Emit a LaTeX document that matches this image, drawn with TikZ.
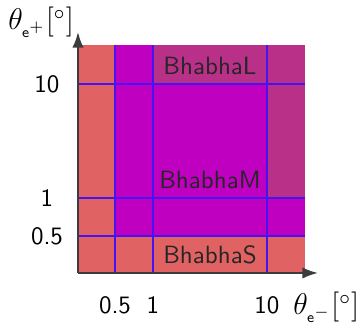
\documentclass[tikz,border=0pt]{standalone}
\usepackage{xcolor}
\usetikzlibrary{arrows.meta}
\definecolor{regsalmon}{RGB}{224,98,98}
\definecolor{regmagenta}{RGB}{192,0,192}
\definecolor{regdark}{RGB}{184,48,136}
\definecolor{gridblue}{RGB}{70,20,240}
\definecolor{axisgray}{RGB}{60,60,60}
\newcommand{\thsub}[1]{\lower1.2pt\hbox{$\scriptscriptstyle\mathsf{e}^{#1}$}}
\tikzset{
  axisarr/.style={-{Latex[length=2.2mm,width=1.6mm]}, thick, draw=axisgray},
  gridln/.style={draw=gridblue, line width=0.5pt},
  ticklbl/.style={font=\sffamily, inner sep=1pt},
  axlbl/.style={font=\large, inner sep=0pt, anchor=base west},
  reglbl/.style={font=\sffamily, text=black!85, inner sep=1pt},
}

\begin{document}
\begin{tikzpicture}[x=0.4pt, y=0.4pt]
  \useasboundingbox (0,0) rectangle (362,325);

  % acceptance regions
  \fill[regsalmon] (78,52) rectangle (305,280);
  \fill[regmagenta] (115,89) rectangle (305,280);
  \fill[regdark] (153,241) rectangle (267,280);
  \fill[regdark] (267,127) rectangle (305,280);

  % grid
  \foreach \gx in {115,153,267}
    \draw[gridln] (\gx,52) -- (\gx,280);
  \foreach \gy in {89,127,241}
    \draw[gridln] (78,\gy) -- (305,\gy);

  % axes
  \coordinate (orig) at (78,52);
  \coordinate (xend) at (318,52);
  \coordinate (yend) at (78,293);
  \draw[axisarr] (orig) -- (xend);
  \draw[axisarr] (orig) -- (yend);

  % ticks
  \node[ticklbl] (ty10) at (47,241) {10};
  \node[ticklbl] (ty1) at (47,127) {1};
  \node[ticklbl] (ty05) at (47,89) {0.5};
  \node[ticklbl] (tx05) at (115,20) {0.5};
  \node[ticklbl] (tx1) at (153,20) {1};
  \node[ticklbl] (tx10) at (267,20) {10};

  % axis titles
  \node[axlbl] (xlab) at (293,10) {$\theta_{\thsub{-}}[^\circ]$};
  \node[axlbl] (ylab) at (8,295) {$\theta_{\thsub{+}}[^\circ]$};

  % region names
  \node[reglbl] (bhl) at (210,259) {BhabhaL};
  \node[reglbl] (bhm) at (210,145) {BhabhaM};
  \node[reglbl] (bhs) at (210,70) {BhabhaS};
\end{tikzpicture}
\end{document}
